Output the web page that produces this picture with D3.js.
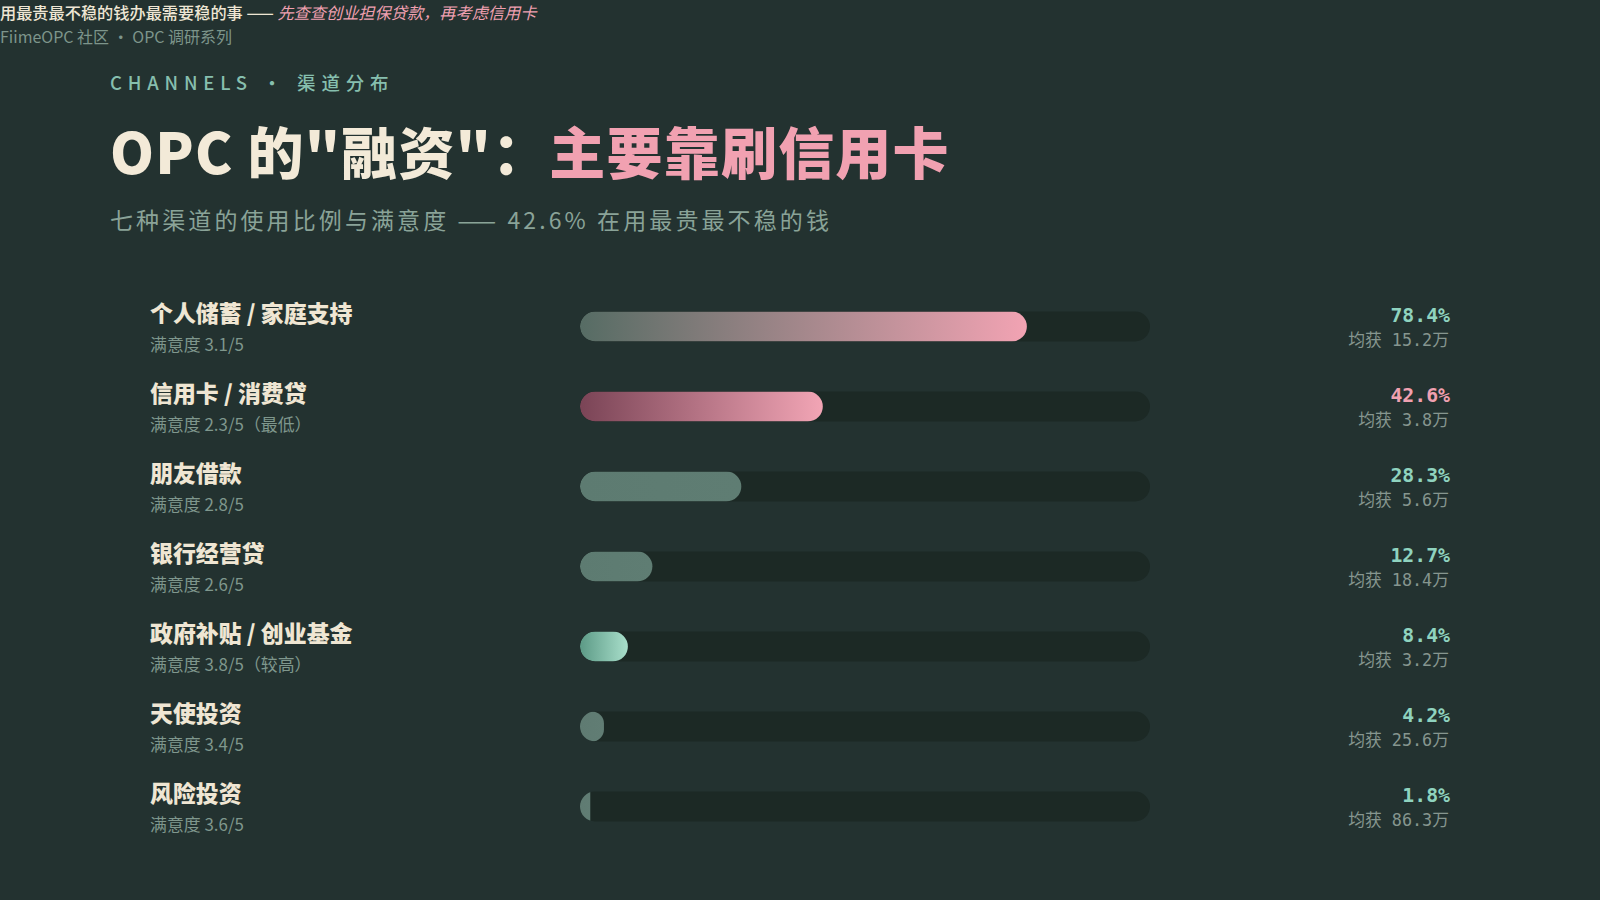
<!DOCTYPE html>
<html><head><meta charset="utf-8">
<script src="https://cdn.jsdelivr.net/npm/d3@7"></script>
<style>
html,body{margin:0;padding:0;background:#233230;}
svg{display:block;}
</style></head>
<body>
<svg id="chart" width="1600" height="900"></svg>
<script>
const channels = ["个人储蓄 / 家庭支持","信用卡 / 消费贷","朋友借款","银行经营贷","政府补贴 / 创业基金","天使投资","风险投资"];
const usage = [78.4, 42.6, 28.3, 12.7, 8.4, 4.2, 1.8];
const satisfaction = [3.1, 2.3, 2.8, 2.6, 3.8, 3.4, 3.6];
const satNotes = ["", "（最低）", "", "", "（较高）", "", ""];
const avgAmount = [15.2, 3.8, 5.6, 18.4, 3.2, 25.6, 86.3];
const axisDomain = [0, 100];

const CJK = "'Noto Sans CJK SC','Noto Sans',sans-serif";
const MONO = "'DejaVu Sans Mono','Liberation Mono','Noto Sans CJK SC',monospace";

const svg = d3.select("#chart");
svg.append("rect").attr("width",1600).attr("height",900).attr("fill","#233230");

// header
const h1 = svg.append("text").attr("x",0).attr("y",19).attr("font-family",CJK).attr("font-size",16.2);
h1.append("tspan").attr("fill","#eee6d4").attr("font-weight",500).text("用最贵最不稳的钱办最需要稳的事 —— ");
h1.append("tspan").attr("fill","#f0a0b0").attr("font-style","italic").text("先查查创业担保贷款，再考虑信用卡");
svg.append("text").attr("x",0).attr("y",42.5).attr("font-family",CJK).attr("font-size",16)
  .attr("fill","#7d958b").text("FiimeOPC 社区 · OPC 调研系列");

svg.append("text").attr("x",110).attr("y",90).attr("font-family",CJK).attr("font-size",18.5)
  .attr("letter-spacing","5.8px").attr("fill","#86bfae").attr("font-weight",500).text("CHANNELS · 渠道分布");

const t = svg.append("text").attr("x",110).attr("y",174).attr("font-family",CJK).attr("font-size",56)
  .attr("font-weight",900).attr("letter-spacing","1.2px");
t.append("tspan").attr("fill","#f3ead8").text("OPC 的\"融资\"：");
t.append("tspan").attr("fill","#f1a1b1").text("主要靠刷信用卡");

svg.append("text").attr("x",110).attr("y",228.5).attr("font-family",CJK).attr("font-size",23)
  .attr("letter-spacing","3.1px").attr("fill","#8aa398").text("七种渠道的使用比例与满意度 —— 42.6% 在用最贵最不稳的钱");

// scales
const x = d3.scaleLinear().domain(axisDomain).range([580, 1150]);
const y = d3.scalePoint().domain(d3.range(channels.length)).range([326.5, 806.5]);
const barH = 30;

const grads = [
  ["#566c64","#f2a3b3"],
  ["#7a4456","#f2a5b5"],
  ["#5d7b71","#5f7d73"],
  ["#5d7b71","#5f7d73"],
  ["#5c9a86","#a9dfcb"],
  ["#5f7b72","#617d74"],
  ["#5f7b72","#617d74"]
];
const defs = svg.append("defs");
grads.forEach((g,i)=>{
  const lg = defs.append("linearGradient").attr("id","g"+i).attr("x1","0%").attr("x2","100%");
  lg.append("stop").attr("offset","0%").attr("stop-color",g[0]);
  lg.append("stop").attr("offset","100%").attr("stop-color",g[1]);
  defs.append("clipPath").attr("id","c"+i).append("rect")
    .attr("x",x(axisDomain[0])).attr("y",y(i)-barH/2).attr("width",x(axisDomain[1])-x(axisDomain[0]))
    .attr("height",barH).attr("rx",barH/2);
});

const rows = svg.selectAll("g.row").data(channels).join("g").attr("class","row");

rows.append("text").attr("x",150).attr("y",(d,i)=>y(i)-5).attr("font-family",CJK).attr("font-size",22.9)
  .attr("font-weight",900).attr("fill","#efe6d3").text(d=>d);
rows.append("text").attr("x",150).attr("y",(d,i)=>y(i)+24.5).attr("font-family",CJK).attr("font-size",16.9)
  .attr("fill","#7f978d").text((d,i)=>`满意度 ${satisfaction[i]}/5${satNotes[i]}`);

rows.append("rect").attr("x",x(axisDomain[0])).attr("y",(d,i)=>y(i)-barH/2)
  .attr("width",x(axisDomain[1])-x(axisDomain[0])).attr("height",barH).attr("rx",barH/2).attr("fill","#1c2925");

rows.append("rect").attr("clip-path",(d,i)=>`url(#c${i})`)
  .attr("x",x(axisDomain[0])).attr("y",(d,i)=>y(i)-barH/2)
  .attr("width",(d,i)=>x(usage[i])-x(0)).attr("height",barH)
  .attr("rx",(d,i)=>{const w=x(usage[i])-x(0); return w<15?0:Math.min(barH/2,w/2);})
  .attr("fill",(d,i)=>`url(#g${i})`);

rows.append("text").attr("x",1450).attr("y",(d,i)=>y(i)-4.5).attr("text-anchor","end")
  .attr("font-family",MONO).attr("font-size",19.8).attr("font-weight",700)
  .attr("fill",(d,i)=>i===1?"#f0a0b0":"#8fd3bf").text((d,i)=>usage[i].toFixed(1)+"%");
rows.append("text").attr("x",1449).attr("y",(d,i)=>y(i)+19).attr("text-anchor","end")
  .attr("font-family",MONO).attr("font-size",16.8).attr("fill","#86968f")
  .text((d,i)=>`均获 ${avgAmount[i].toFixed(1)}万`);
</script>
</body></html>
